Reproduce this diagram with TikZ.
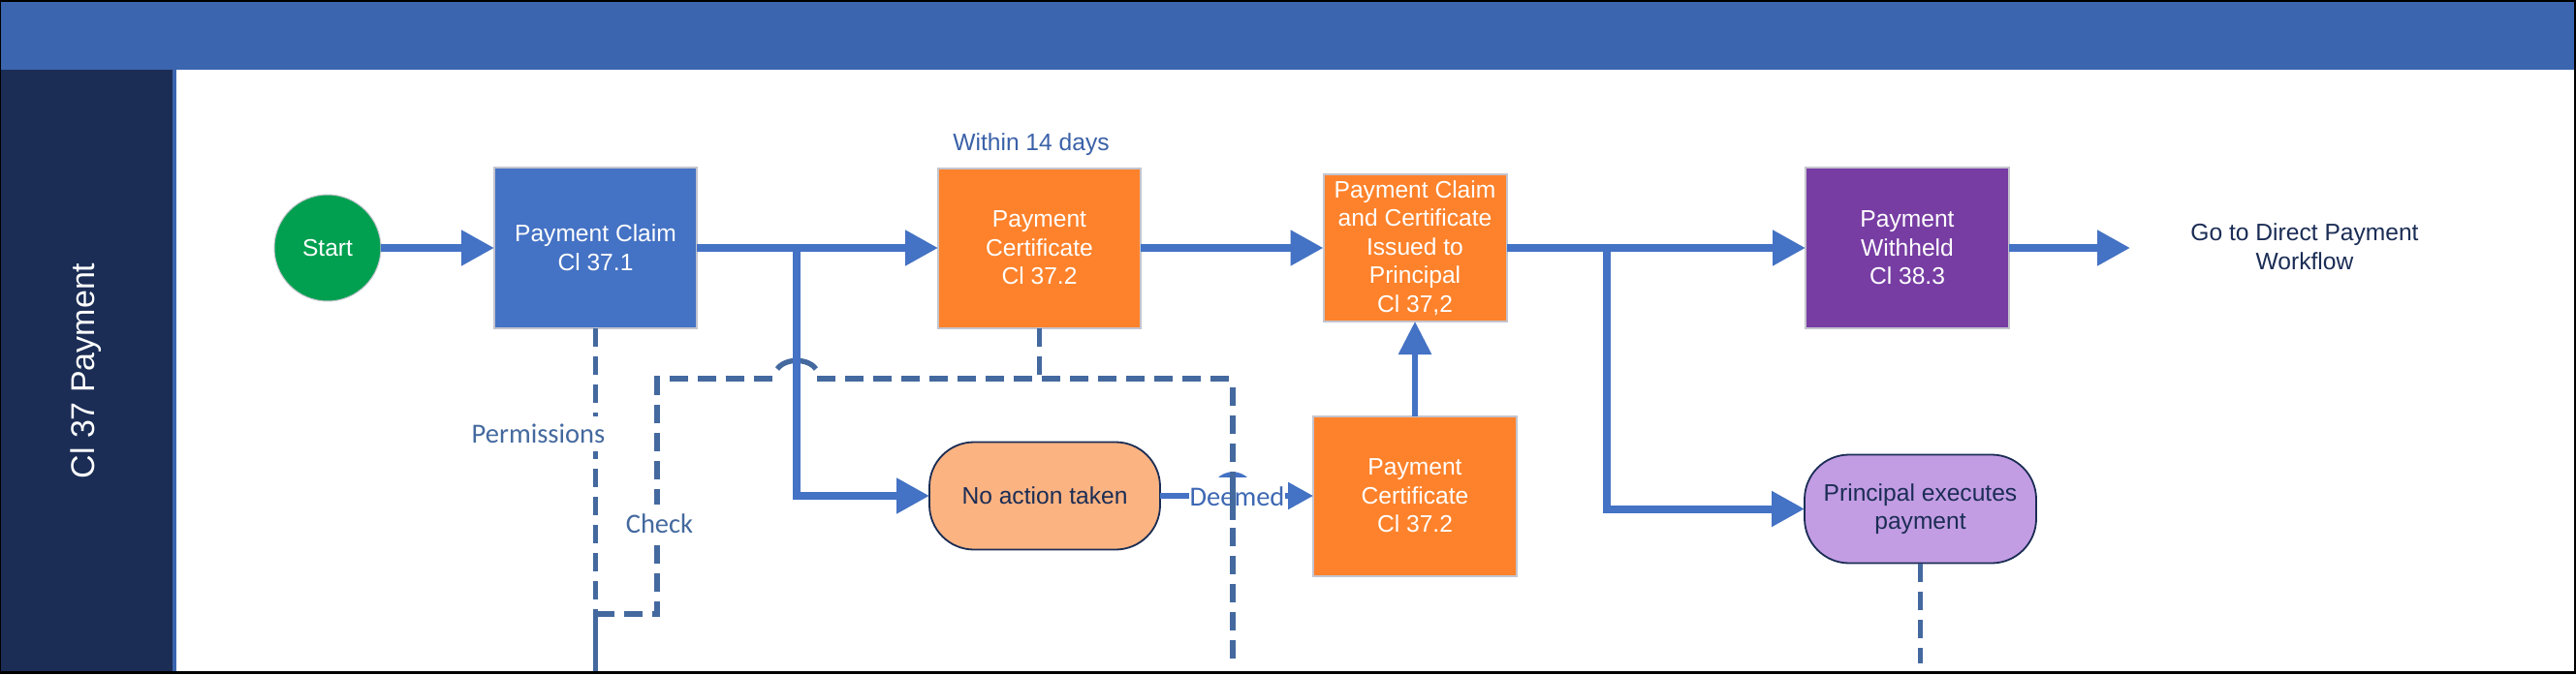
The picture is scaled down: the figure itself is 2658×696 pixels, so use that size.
\documentclass[tikz,border=0pt]{standalone}
\usepackage{fontspec}
\setmainfont{Liberation Sans}
\newfontfamily\lblfont{Carlito}
\usetikzlibrary{arrows.meta}
\definecolor{mainblue}{HTML}{4472C4}
\definecolor{dashblue}{HTML}{44699F}
\definecolor{headblue}{HTML}{3B65AE}
\definecolor{navy}{HTML}{1B2D55}
\definecolor{orangebox}{HTML}{FD822B}
\definecolor{orangesoft}{HTML}{FBB381}
\definecolor{purplebox}{HTML}{773DA3}
\definecolor{lilac}{HTML}{C39DE3}
\definecolor{greenstart}{HTML}{00A050}
\definecolor{inktext}{HTML}{1B2D55}
\definecolor{framegray}{HTML}{C4C4CE}
\tikzset{
  x=1pt,y=-1pt,
  every node/.style={outer sep=0pt,inner sep=0pt,align=center,font=\fontsize{24.6}{29.6}\selectfont},
  procbox/.style={rectangle,draw=framegray,line width=2pt,text=white},
  softbox/.style={rectangle,draw=inktext,line width=1.8pt,rounded corners=46pt,text=inktext},
  flow/.style={line width=8pt,color=mainblue,-{Triangle[length=34pt,width=35pt]}},
  flowthin/.style={line width=6pt,color=mainblue,-{Triangle[length=34pt,width=33pt]}},
  deemedflow/.style={line width=5.5pt,color=mainblue,-{Triangle[length=26pt,width=27pt]}},
  jumpline/.style={line width=5.4pt,color=mainblue},
  dashedflow/.style={line width=5.4pt,color=dashblue,dash pattern=on 19pt off 10pt},
  solidlink/.style={line width=5.4pt,color=dashblue},
  lbl/.style={fill=white,text=dashblue,font=\lblfont\fontsize{28.5}{32}\selectfont},
}
\begin{document}
\begin{tikzpicture}
\useasboundingbox (0,0) rectangle (2658,696);
% frame
\fill[black] (0,0) rectangle (2658,696);
\fill[white] (178,71) rectangle (2656,693);
% header and lane
\node[minimum width=2654.5pt,minimum height=69.5pt,fill=headblue,anchor=north west] (header) at (1,2) {};
\node[minimum width=177pt,minimum height=621.5pt,fill=navy,anchor=north west] (lane) at (1,71.5) {};
\fill[headblue] (lane.north east) rectangle (182,693);
\node[rotate=90,text=white,font=\fontsize{34}{40}\selectfont] (lanetext) at (89,383) {Cl 37 Payment};

% nodes
\node[circle,fill=greenstart,draw=framegray,line width=1pt,minimum size=110pt,text=white] (start) at (338,256) {Start};
\node[procbox,fill=mainblue,minimum width=209pt,minimum height=166pt] (claim) at (614.5,256) {Payment Claim\\Cl 37.1};
\node[procbox,fill=orangebox,minimum width=209pt,minimum height=165pt] (cert) at (1072.5,256) {Payment\\Certificate\\Cl 37.2};
\node[procbox,fill=orangebox,minimum width=189pt,minimum height=152pt] (issued) at (1460,256) {Payment Claim\\and Certificate\\Issued to\\Principal\\Cl 37,2};
\node[procbox,fill=orangebox,minimum width=210pt,minimum height=165pt] (cert2) at (1460,512) {Payment\\Certificate\\Cl 37.2};
\node[procbox,fill=purplebox,minimum width=210pt,minimum height=166pt] (withheld) at (1968,256) {Payment\\Withheld\\Cl 38.3};
\node[softbox,fill=orangesoft,minimum width=238pt,minimum height=111pt] (noaction) at (1078,512) {No action taken};
\node[softbox,fill=lilac,minimum width=239pt,minimum height=112pt] (principal) at (1981.5,525.5) {Principal executes\\payment};
\node[text=inktext] (goto) at (2378,255) {Go to Direct Payment\\Workflow};
\node[text=mainblue!75!navy] (within) at (1064,149) {Within 14 days};

% named free ends
\coordinate (branchA) at (822,256);
\coordinate (branchB) at (1658,256);
\coordinate (exit) at (2198,256);
\coordinate (claimdown) at (claim.south |- 0,693);
\coordinate (merge) at (claim.south |- 0,634);
\coordinate (checkcorner) at (678,634);
\coordinate (checktop) at (678,391);
\coordinate (jumpin) at (801,391);
\coordinate (jumpout) at (843,391);
\coordinate (certjoin) at (cert.south |- 0,391);
\coordinate (farcorner) at (1272,391);
\coordinate (farstart) at (1272,400);
\coordinate (farbottom) at (1272,684);
\coordinate (crossA) at (1272,492);
\coordinate (crossB) at (1272,537);
\coordinate (principaldown) at (principal.south |- 0,685);

% dashed lines
\draw[dashedflow] (claim.south) -- (merge);
\draw[solidlink] (merge) -- (claimdown);
\draw[dashedflow] (merge) -- (checkcorner) -- (checktop) -- (jumpin);
\draw[solidlink] (jumpin) ++(1,-10) arc[start angle=155,end angle=25,x radius=22pt,y radius=15pt];
\draw[dashedflow] (jumpout) -- (farcorner);
\draw[dashedflow] (cert.south) -- (certjoin);
\draw[dashedflow] (principal.south) -- (principaldown);

% solid flows
\draw[flow] (start) -- (claim);
\draw[flow] (claim) -- (cert);
\draw[flow] (cert) -- (issued);
\draw[flow] (issued) -- (withheld);
\draw[flow] (withheld) -- (exit);
\draw[flow] (branchA) |- (noaction);
\draw[flow] (branchB) |- (principal);
\draw[flowthin] (cert2) -- (issued);
\draw[deemedflow] (noaction) -- (cert2);
\draw[jumpline] (1252,510) arc[start angle=180,end angle=0,radius=20pt];

% labels
\node[lbl,minimum width=141pt,minimum height=36pt] (perm) at (555.5,448) {Permissions};
\node[lbl,minimum width=71pt,minimum height=40pt] (check) at (680.5,541) {Check};
\node[lbl,minimum width=99pt,minimum height=40pt,text=mainblue!85!navy] (deemed) at (1276.5,513) {Deemed};
\draw[dashedflow] (farstart) -- (farbottom);
\draw[solidlink] (crossA) -- (crossB);
\end{tikzpicture}
\end{document}
